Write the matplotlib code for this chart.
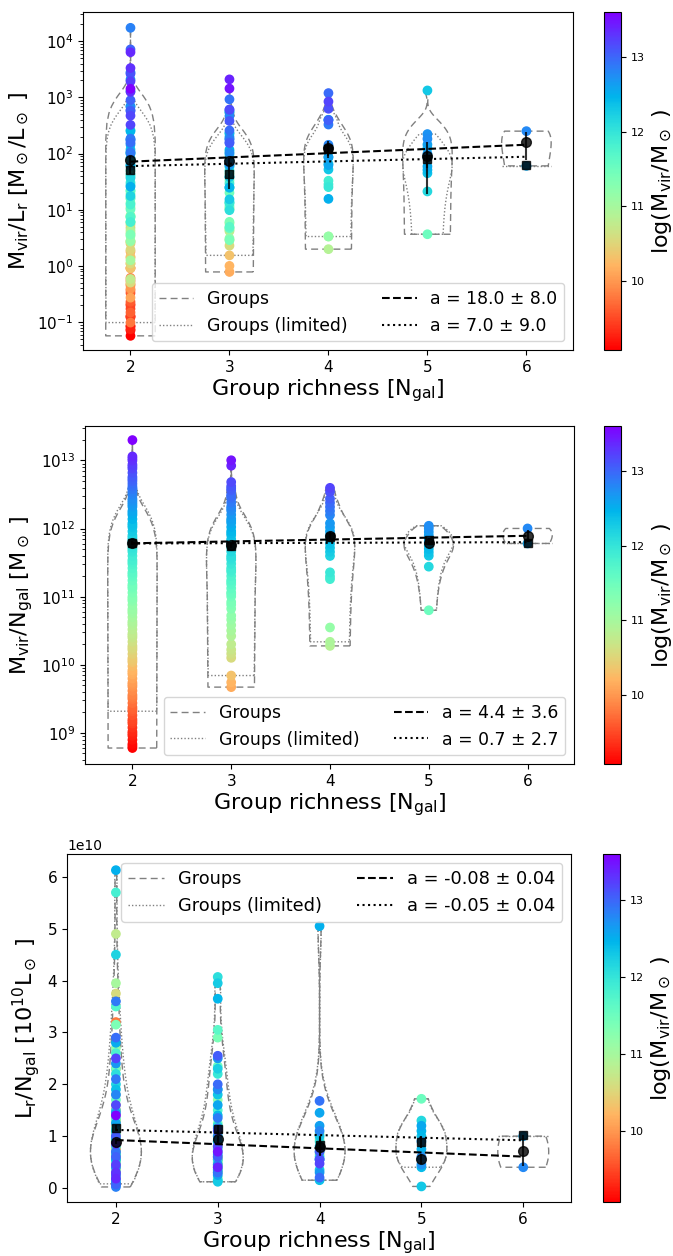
import numpy as np
import matplotlib.pyplot as plt
from matplotlib.lines import Line2D

richness = [2, 3, 4, 5, 6]

# per group: log virial mass, r-band luminosity per galaxy [1e10 Lsun], member of limited sample
logm = [
    [9.08, 9.14, 9.20, 9.26, 9.32, 9.38, 9.44, 9.50, 9.56, 9.62, 9.68, 9.74, 9.80, 9.86, 9.92,
     9.98, 10.04, 10.10, 10.16, 10.22, 10.28, 10.34, 10.40, 10.46, 10.52, 10.58, 10.64, 10.70,
     10.76, 10.82, 10.88, 10.94, 11.00, 11.06, 11.12, 11.18, 11.24, 11.30, 11.36, 11.42, 11.48,
     11.54, 11.60, 11.66, 11.72, 11.78, 11.84, 11.90, 11.96, 12.02, 12.08, 12.14, 12.20, 12.26,
     12.32, 12.38, 12.44, 12.50, 12.56, 12.62, 12.68, 12.74, 12.80, 12.84, 12.88, 12.92, 12.96,
     13.00, 13.06, 13.12, 13.18, 13.24, 13.30, 13.36, 13.60,
     9.11, 9.29, 9.47, 9.65, 9.83, 10.01, 10.19, 10.37, 10.55, 10.73, 10.91, 11.09, 11.27,
     11.45, 11.63, 11.81, 11.99, 12.17, 12.35, 12.53, 12.71, 12.89, 13.03, 13.21, 13.33,
     12.11, 12.65],
    [10.15, 10.22, 10.32, 10.58, 10.64, 10.70, 10.78, 10.90, 10.98, 11.06, 11.14, 11.30, 11.40,
     11.48, 11.54, 11.60, 11.66, 11.72, 11.78, 11.84, 11.90, 11.96, 12.02, 12.08, 12.14, 12.20,
     12.26, 12.32, 12.38, 12.44, 12.50, 12.56, 12.62, 12.68, 12.74, 12.80, 12.86, 12.92, 12.98,
     13.04, 13.10, 13.16, 13.40, 13.48,
     11.20, 11.36, 11.52, 11.69, 11.87, 12.05, 12.23, 12.41, 12.59, 12.77, 12.95, 13.07, 12.29],
    [10.88, 10.94, 11.15, 11.86, 11.90, 11.96, 12.20, 12.26, 12.32, 12.38, 12.44, 12.50, 12.56,
     12.62, 12.68, 12.80, 12.86, 12.92, 12.98, 13.04, 13.14, 13.20],
    [11.50, 12.14, 12.30, 12.35, 12.40, 12.45, 12.50, 12.55, 12.60, 12.65, 12.70, 12.74],
    [12.56, 12.78],
]
lr_per_gal = [
    [1.05, 0.80, 0.95, 0.70, 0.85, 0.60, 1.10, 0.75, 0.55, 0.90, 0.65, 0.50, 3.20, 0.80, 0.45,
     1.00, 0.60, 2.30, 0.40, 0.75, 0.35, 1.20, 0.50, 0.30, 0.85, 3.75, 0.40, 0.65,
     4.90, 0.30, 1.40, 0.55, 3.95, 0.35, 0.90, 2.70, 0.45, 1.30, 3.15, 0.60, 0.25,
     1.70, 0.50, 1.05, 3.50, 0.30, 5.70, 0.80, 1.50, 0.20, 2.20, 0.65, 4.50, 1.10,
     0.15, 1.90, 0.55, 6.13, 1.25, 0.10, 2.40, 0.40, 1.80, 0.02, 3.60, 0.70, 2.90,
     0.07, 1.00, 0.25, 1.60, 0.45, 0.30, 0.18, 1.40,
     0.90, 1.30, 0.85, 1.50, 0.55, 1.30, 0.55, 0.80, 1.60, 0.45, 0.95, 1.80, 0.70,
     2.30, 1.35, 2.60, 1.15, 2.00, 0.95, 2.80, 1.45, 2.10, 0.60, 2.50, 0.85,
     0.05, 0.08],
    [0.60, 0.55, 0.45, 0.55, 0.50, 0.40, 0.35, 0.60, 0.30, 0.80, 0.45, 0.20, 2.90,
     0.50, 1.00, 0.30, 3.05, 0.70, 1.50, 0.40, 0.90, 2.20, 0.15, 4.07, 1.20, 0.55,
     3.95, 1.80, 0.35, 3.65, 0.90, 1.60, 0.25, 2.50, 1.00, 0.45, 1.35, 0.30, 2.00,
     0.60, 1.10, 0.80, 0.40, 0.70,
     1.70, 1.25, 2.35, 0.15, 1.90, 0.75, 2.30, 1.40, 0.65, 1.90, 1.15, 2.55, 0.12],
    [0.95, 0.65, 1.05, 0.55, 0.70, 0.90, 0.60, 0.35, 1.00, 0.15, 0.80, 5.05, 1.45,
     1.20, 0.30, 1.10, 0.55, 1.68, 0.20, 0.70, 0.55, 0.47],
    [1.72, 1.30, 0.03, 1.00, 0.40, 1.10, 0.75, 1.20, 0.55, 0.90, 0.45, 0.60],
    [1.00, 0.40],
]
limited = [
    [0, 0, 0, 0, 0, 0, 0, 0, 0, 1, 1, 1, 1, 1, 1, 1, 1, 1, 1, 1, 1, 1, 1, 1, 1, 1, 1, 1,
     1, 1, 1, 1, 1, 1, 1, 1, 1, 1, 1, 1, 1, 1, 1, 1, 1, 1, 1, 1, 1, 1, 1, 1, 1, 1,
     1, 1, 1, 1, 1, 0, 1, 1, 1, 0, 1, 1, 1, 0, 1, 1, 1, 1, 1, 1, 1,
     0, 0, 0, 1, 1, 1, 1, 1, 1, 1, 1, 1, 1, 1, 1, 1, 1, 1, 1, 1, 1, 1, 1, 1, 1,
     0, 1],
    [0, 0, 1, 1, 1, 1, 1, 1, 1, 1, 1, 1, 1, 1, 1, 1, 1, 1, 1, 1, 1, 1, 1, 1, 1, 1,
     1, 1, 1, 1, 1, 1, 1, 1, 1, 1, 1, 0, 1, 1, 1, 1, 0, 1,
     1, 1, 1, 1, 1, 1, 1, 1, 1, 1, 1, 1, 1],
    [0, 1, 1, 1, 1, 1, 1, 1, 1, 1, 1, 1, 1, 1, 1, 1, 1, 1, 0, 1, 1, 1],
    [1, 1, 0, 1, 1, 1, 1, 1, 1, 1, 1, 1],
    [1, 0],
]

# mean (all groups) and limited-sample values per richness
ml_mean = [76, 73, 126, 89, 158]
ml_mean_err = [14, 12, 44, 70, 80]
ml_lim = [52, 43, 120, 80, 62]
ml_lim_err = [8, 20, 30, 25, 0]
mn_mean = [6.2e11, 5.7e11, 7.9e11, 6.2e11, 7.9e11]
mn_mean_err = [3e10, 4e10, 9e10, 5e10, 1.5e11]
mn_lim = [6.1e11, 5.6e11, 7.6e11, 6.7e11, 6.1e11]
mn_lim_err = [3e10, 4e10, 8e10, 5e10, 0]
ln_mean = [0.89e10, 0.94e10, 0.80e10, 0.56e10, 0.72e10]
ln_mean_err = [0.05e10, 0.07e10, 0.18e10, 0.10e10, 0.30e10]
ln_lim = [1.16e10, 1.13e10, 0.82e10, 0.89e10, 1.02e10]
ln_lim_err = [0.06e10, 0.08e10, 0.18e10, 0.12e10, 0]

# linear fits: slope, slope error, intercept (all groups / limited); legend unit
fit_ml = [(18.0, 8.0, 36.0), (7.0, 9.0, 46.0)]
fit_mn = [(4.4e10, 3.6e10, 5.2e11), (0.7e10, 2.7e10, 5.9e11)]
fit_ln = [(-0.08e10, 0.04e10, 1.085e10), (-0.05e10, 0.04e10, 1.22e10)]

mass = [10 ** np.array(m) for m in logm]
lum = [np.array(l) * 1e10 for l in lr_per_gal]
ml = [m / n / l for m, n, l in zip(mass, richness, lum)]
mn = [m / n for m, n in zip(mass, richness)]
vmin = min(min(m) for m in logm)
vmax = max(max(m) for m in logm)

DASH = (0, (5, 3))
DOT = (0, (1, 1.5))


def violins(ax, data, ls, color):
    for x, d in zip(richness, data):
        d = np.asarray(d)
        if len(d) > 1:
            parts = ax.violinplot([d], positions=[x], widths=0.5, showextrema=False)
            for b in parts['bodies']:
                b.set_alpha(1)
                b.set_facecolor('none')
                b.set_edgecolor(color)
                b.set_linestyle(ls)
                b.set_linewidth(1)
                b.set_zorder(1)
        else:
            ax.hlines(d, x - 0.25, x + 0.25, colors=color, linestyles=ls, lw=1, zorder=1)


def panel(rect, crect, ydata, mean, mean_err, lim, lim_err, fits, unit, scale, ylabel, ylim,
          fmt, loc, lfs):
    ax = fig.add_axes(rect)
    if scale == 'log':
        ax.set_yscale('log')
    violins(ax, ydata, DASH, 'grey')
    violins(ax, [np.asarray(y)[np.asarray(k) == 1] for y, k in zip(ydata, limited)], DOT, 'grey')
    for x, y, c in zip(richness, ydata, logm):
        order = np.argsort(c)
        sc = ax.scatter(np.full(len(y), x), np.asarray(y)[order], c=np.asarray(c)[order],
                        cmap='rainbow_r', vmin=vmin, vmax=vmax, s=36, zorder=2)
    ax.errorbar(richness, mean, yerr=mean_err, fmt='o', color='k', ms=7, alpha=0.8, zorder=4)
    ax.errorbar(richness, lim, yerr=lim_err, fmt='s', color='k', ms=6, alpha=0.8, zorder=4)
    xx = np.array([richness[0], richness[-1]])
    handles = [Line2D([], [], color='grey', ls=DASH, lw=1),
               Line2D([], [], color='grey', ls=DOT, lw=1)]
    labels = ['Groups', 'Groups (limited)']
    for (a, ea, b), ls in zip(fits, ['--', ':']):
        ax.plot(xx, a * xx + b, color='k', ls=ls, lw=1.5, zorder=5)
        handles.append(Line2D([], [], color='k', ls=ls, lw=1.5))
        labels.append('a = ' + fmt.format(a / unit) + ' ± ' + fmt.format(ea / unit))
    ax.legend(handles, labels, ncol=2, loc=loc, fontsize=lfs)
    ax.set_xlim(1.52, 6.47)
    ax.set_ylim(*ylim)
    ax.set_xticks(richness)
    ax.tick_params(labelsize=11)
    ax.set_xlabel(r'Group richness [$\mathrm{N_{gal}}$]', fontsize=16, labelpad=2)
    ax.set_ylabel(ylabel, fontsize=16)
    cax = fig.add_axes(crect)
    cb = fig.colorbar(sc, cax=cax)
    cb.set_ticks([10, 11, 12, 13])
    cb.ax.tick_params(labelsize=8)
    cb.set_label(r'$\mathrm{log(M_{vir}/M_\odot\ )}$', fontsize=16)
    return ax


fig = plt.figure(figsize=(6.73, 12.56), dpi=100)

panel([0.1233, 0.7213, 0.728, 0.2691], [0.8975, 0.7213, 0.0253, 0.2691],
      ml, ml_mean, ml_mean_err, ml_lim, ml_lim_err, fit_ml, 1, 'log',
      r'$\mathrm{M_{vir}/L_r\ [M_\odot/L_\odot\ ]}$', (0.032, 3.3e4), '{:.1f}',
      'lower right', 12.4)
panel([0.1263, 0.3917, 0.7266, 0.2691], [0.8975, 0.3917, 0.0253, 0.2691],
      mn, mn_mean, mn_mean_err, mn_lim, mn_lim_err, fit_mn, 1e10, 'log',
      r'$\mathrm{M_{vir}/N_{gal}\ [M_\odot\ ]}$', (3.5e8, 3.2e13), '{:.1f}',
      'lower right', 12.4)
panel([0.0996, 0.043, 0.749, 0.277], [0.896, 0.043, 0.0253, 0.277],
      lum, ln_mean, ln_mean_err, ln_lim, ln_lim_err, fit_ln, 1e10, 'linear',
      r'$\mathrm{L_r/N_{gal}\ [10^{10} L_\odot\ ]}$', (-0.27e10, 6.44e10), '{:.2f}',
      'upper right', 12.75)

fig.savefig('out.png', dpi=100)
